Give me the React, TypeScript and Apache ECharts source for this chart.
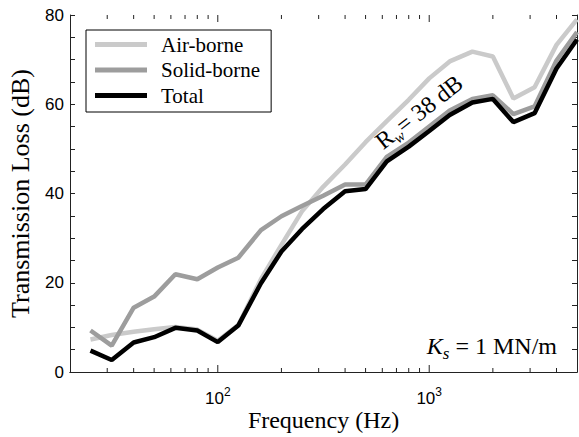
import React, { useEffect, useRef } from "react";
import * as echarts from "echarts";

// Third-octave band centre frequencies (Hz)
const frequencies = [25, 31.5, 40, 50, 63, 80, 100, 125, 160, 200, 250, 315, 400, 500, 630, 800, 1000, 1250, 1600, 2000, 2500, 3150, 4000, 5000];
// Transmission loss (dB)
const airBorne = [7.3, 8.3, 9.0, 9.6, 10.1, 9.5, 7.0, 10.5, 20.8, 28.5, 36.0, 41.5, 46.5, 51.5, 56.2, 61.0, 65.8, 69.6, 71.8, 70.7, 61.3, 63.8, 73.3, 79.0];
const solidBorne = [9.3, 5.9, 14.4, 16.9, 21.9, 20.8, 23.4, 25.6, 31.8, 34.9, 37.2, 39.5, 42.0, 42.0, 48.2, 51.4, 55.0, 58.6, 61.2, 62.0, 57.8, 59.5, 69.8, 76.2];
const total = [4.8, 2.7, 6.6, 7.8, 9.9, 9.3, 6.7, 10.4, 19.9, 27.0, 32.0, 36.5, 40.5, 41.0, 47.2, 50.5, 54.0, 57.6, 60.4, 61.2, 56.0, 58.0, 68.0, 74.5];

const seriesNames = ["Air-borne", "Solid-borne", "Total"];
const seriesColors = ["#cacaca", "#9d9d9d", "#000000"];

// x-axis ticks (log axis)
const majorTicks = [100, 1000];
const majorTickExponents = [2, 3];
const minorTicks = [30, 40, 50, 60, 70, 80, 90, 200, 300, 400, 500, 600, 700, 800, 900, 2000, 3000, 4000];

const X_MIN = 20;
const X_MAX = 5000;
const Y_MIN = 0;
const Y_MAX = 80;

const SERIF = "Liberation Serif";
const SANS = "Liberation Sans";
const AXIS_COLOR = "#222";

export default function App() {
  const ref = useRef<HTMLDivElement>(null);

  useEffect(() => {
    if (!ref.current) return;
    const chart = echarts.init(ref.current, undefined, { renderer: "svg" });

    const toPairs = (vals: number[]) => frequencies.map((f, i) => [f, vals[i]]);
    const lineData = [airBorne, solidBorne, total];

    const tickData = [
      ...majorTicks.map((f) => [f, 1]),
      ...minorTicks.map((f) => [f, 0]),
    ];

    const xAxisBase = {
      type: "log" as const,
      logBase: 10,
      min: X_MIN,
      max: X_MAX,
      axisLine: { show: true, lineStyle: { color: AXIS_COLOR, width: 1 } },
      axisTick: { show: false },
      axisLabel: { show: false },
      minorTick: { show: false },
      splitLine: { show: false },
      minorSplitLine: { show: false },
    };

    const yAxisBase = {
      type: "value" as const,
      min: Y_MIN,
      max: Y_MAX,
      interval: 20,
      axisLine: { show: true, lineStyle: { color: AXIS_COLOR, width: 1 } },
      axisTick: { show: true, inside: true, length: 5, lineStyle: { color: AXIS_COLOR } },
      minorTick: { show: true, splitNumber: 4, length: 5, lineStyle: { color: AXIS_COLOR } },
      splitLine: { show: false },
    };

    const option: any = {
      animation: false,
      backgroundColor: "#ffffff",
      grid: { left: 70, right: 2, top: 15, bottom: 65, containLabel: false, outerBoundsMode: "none" },
      xAxis: [
        {
          ...xAxisBase,
          position: "bottom",
          name: "Frequency (Hz)",
          nameLocation: "middle",
          nameGap: 36,
          nameTextStyle: { fontFamily: SERIF, fontSize: 24, color: "#000" },
        },
        { ...xAxisBase, position: "top" },
      ],
      yAxis: [
        {
          ...yAxisBase,
          position: "left",
          axisLabel: { show: true, margin: 6, fontFamily: SANS, fontSize: 17, color: "#000" },
          name: "Transmission Loss (dB)",
          nameLocation: "middle",
          nameGap: 37,
          nameTextStyle: { fontFamily: SERIF, fontSize: 26, color: "#000" },
        },
        { ...yAxisBase, position: "right", axisLabel: { show: false } },
      ],
      legend: {
        show: true,
        data: seriesNames,
        orient: "vertical",
        left: 86,
        top: 30,
        padding: [4, 11, 6, 9],
        itemGap: 4.5,
        itemWidth: 52,
        itemHeight: 5,
        icon: "rect",
        borderColor: "#000",
        borderWidth: 1,
        borderRadius: 0,
        backgroundColor: "#fff",
        textStyle: { fontFamily: SERIF, fontSize: 21, lineHeight: 20, color: "#000", padding: [0, 0, 0, 9] },
      },
      series: [
        ...seriesNames.map((name, i) => ({
          name,
          type: "line",
          xAxisIndex: 0,
          yAxisIndex: 0,
          data: toPairs(lineData[i]),
          symbol: "none",
          color: seriesColors[i],
          lineStyle: { width: 4.5, color: seriesColors[i] },
          z: 2 + i,
          silent: true,
        })),
        {
          type: "custom",
          name: "xticks",
          xAxisIndex: 0,
          yAxisIndex: 0,
          data: tickData,
          silent: true,
          z: 10,
          renderItem: (_params: any, api: any) => {
            const f = api.value(0);
            const len = api.value(1) ? 7 : 4;
            const b = api.coord([f, Y_MIN]);
            const t = api.coord([f, Y_MAX]);
            return {
              type: "group",
              children: [
                { type: "line", shape: { x1: b[0], y1: b[1], x2: b[0], y2: b[1] - len }, style: { stroke: AXIS_COLOR, lineWidth: 1 } },
                { type: "line", shape: { x1: t[0], y1: t[1], x2: t[0], y2: t[1] + len }, style: { stroke: AXIS_COLOR, lineWidth: 1 } },
              ],
            };
          },
        },
        {
          type: "custom",
          name: "xlabels",
          xAxisIndex: 0,
          yAxisIndex: 0,
          data: majorTicks.map((f, i) => [f, majorTickExponents[i]]),
          silent: true,
          clip: false,
          z: 10,
          renderItem: (_params: any, api: any) => {
            const f = api.value(0);
            const e = api.value(1);
            const b = api.coord([f, Y_MIN]);
            return {
              type: "text",
              x: b[0],
              y: b[1] + 14,
              style: {
                text: `{b|10}{s|${e}}`,
                align: "center",
                verticalAlign: "top",
                rich: {
                  b: { fontFamily: SANS, fontSize: 17, lineHeight: 17, padding: [4, 0, 0, 0], verticalAlign: "top", fill: "#000" },
                  s: { fontFamily: SANS, fontSize: 12, lineHeight: 12, verticalAlign: "top", fill: "#000" },
                },
              },
            };
          },
        },
      ],
      graphic: [
        {
          type: "text",
          x: 419,
          y: 112,
          rotation: (38 * Math.PI) / 180,
          z: 20,
          style: {
            text: "{r|R}{w|w}{t|= 38 dB}",
            align: "center",
            verticalAlign: "middle",
            rich: {
              r: { fontFamily: SERIF, fontSize: 24, lineHeight: 24, verticalAlign: "top", fill: "#000" },
              w: { fontFamily: SERIF, fontSize: 15, lineHeight: 15, fontStyle: "italic", padding: [12, 0, 0, 0], verticalAlign: "top", fill: "#000" },
              t: { fontFamily: SERIF, fontSize: 24, lineHeight: 24, verticalAlign: "top", fill: "#000" },
            },
          },
        },
        {
          type: "text",
          x: 557,
          y: 346,
          z: 20,
          style: {
            text: "{k|K}{s|s}{t| = 1 MN/m}",
            align: "right",
            verticalAlign: "middle",
            rich: {
              k: { fontFamily: SERIF, fontSize: 24, lineHeight: 24, fontStyle: "italic", verticalAlign: "top", fill: "#000" },
              s: { fontFamily: SERIF, fontSize: 17, lineHeight: 17, fontStyle: "italic", padding: [11, 0, 0, 0], verticalAlign: "top", fill: "#000" },
              t: { fontFamily: SERIF, fontSize: 24, lineHeight: 24, verticalAlign: "top", fill: "#000" },
            },
          },
        },
      ],
    };

    chart.setOption(option);
    return () => chart.dispose();
  }, []);

  return (
    <div
      ref={ref}
      style={{ position: "fixed", left: 0, top: 0, width: 579, height: 437, background: "#fff" }}
    />
  );
}
